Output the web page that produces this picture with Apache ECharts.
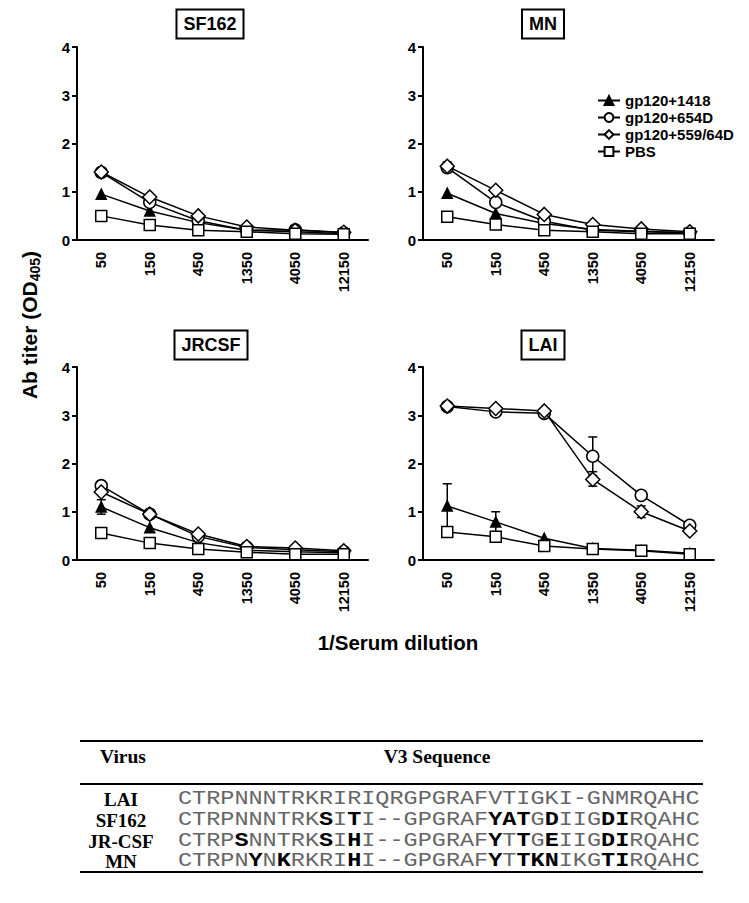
<!DOCTYPE html>
<html><head><meta charset="utf-8">
<script src="https://cdn.jsdelivr.net/npm/echarts@6/dist/echarts.min.js"></script>
<style>html,body{margin:0;padding:0;background:#fff}#c{width:749px;height:903px}</style>
</head><body><div id="c"></div>
<script>
// ---------- DATA ----------
const dilutions = ['50', '150', '450', '1350', '4050', '12150'];
const seriesNames = ['gp120+1418', 'gp120+654D', 'gp120+559/64D', 'PBS'];
const panelNames = ['SF162', 'MN', 'JRCSF', 'LAI'];
const yTicks = [0, 1, 2, 3, 4];

const sf162_1418 = [0.95, 0.60, 0.36, 0.20, 0.17, 0.13];
const sf162_654D = [1.40, 0.78, 0.40, 0.20, 0.21, 0.15];
const sf162_559 = [1.41, 0.89, 0.50, 0.27, 0.20, 0.16];
const sf162_pbs = [0.50, 0.31, 0.20, 0.17, 0.13, 0.12];

const mn_1418 = [0.97, 0.55, 0.34, 0.22, 0.18, 0.15];
const mn_654D = [1.50, 0.78, 0.39, 0.20, 0.17, 0.15];
const mn_559 = [1.53, 1.03, 0.53, 0.32, 0.23, 0.17];
const mn_pbs = [0.48, 0.32, 0.20, 0.17, 0.13, 0.13];

const jrcsf_1418 = [1.10, 0.67, 0.36, 0.20, 0.17, 0.15];
const jrcsf_654D = [1.54, 0.95, 0.49, 0.26, 0.21, 0.17];
const jrcsf_559 = [1.41, 0.95, 0.54, 0.28, 0.25, 0.19];
const jrcsf_pbs = [0.56, 0.35, 0.23, 0.16, 0.12, 0.12];

const lai_1418 = [1.12, 0.79, 0.45, 0.24, 0.20, 0.14];
const lai_654D = [3.18, 3.07, 3.04, 2.15, 1.34, 0.72];
const lai_559 = [3.19, 3.14, 3.09, 1.67, 1.00, 0.60];
const lai_pbs = [0.58, 0.48, 0.29, 0.23, 0.19, 0.12];

// error bars: [category index, low, high]
const sf162_err = [];
const mn_err = [[0, 1.40, 1.62]];
const jrcsf_err = [[0, 0.95, 1.25]];
const lai_err = [[0, 0.66, 1.58], [1, 0.58, 1.00], [3, 1.75, 2.55], [3, 1.53, 1.83], [4, 0.88, 1.12]];

const tableHeader = ['Virus', 'V3 Sequence'];
const tableViruses = ['LAI', 'SF162', 'JR-CSF', 'MN'];
// bracketed letters are printed in bold
const tableSequences = [
  'CTRPNNNTRKRIRIQRGPGRAFVTIGKI-GNMRQAHC',
  'CTRPNNNTRK[S]I[T]I--GPGRAF[YAT]G[D]IIG[DI]RQAHC',
  'CTRP[S]NNTRK[S]I[H]I--GPGRAF[Y]T[T]G[E]IIG[DI]RQAHC',
  'CTRPN[Y]N[K]RKRI[H]I--GPGRAF[Y]T[TKN]IKG[TI]RQAHC'
];

const panelData = [
  [sf162_1418, sf162_654D, sf162_559, sf162_pbs],
  [mn_1418, mn_654D, mn_559, mn_pbs],
  [jrcsf_1418, jrcsf_654D, jrcsf_559, jrcsf_pbs],
  [lai_1418, lai_654D, lai_559, lai_pbs]
];
const panelErr = [sf162_err, mn_err, jrcsf_err, lai_err];

// ---------- STYLE / LAYOUT ----------
const SANS = '"Liberation Sans", Arial, sans-serif';
const SERIF = '"Liberation Serif", "Times New Roman", serif';
const MONO = '"Liberation Mono", "Courier New", monospace';
const gridPos = [
  {left: 77, top: 47}, {left: 423, top: 47},
  {left: 77, top: 367}, {left: 423, top: 367}
];
const GW = 291, GH = 193;
const titlePos = [[210, 24], [543, 24], [211, 345], [543, 345]];
const symbolDefs = [
  {symbol: 'triangle', size: 10, fill: '#000'},
  {symbol: 'circle', size: 12, fill: '#fff'},
  {symbol: 'diamond', size: 14, fill: '#fff'},
  {symbol: 'rect', size: 11, fill: '#fff'}
];

const grids = [], xAxes = [], yAxes = [], series = [], graphics = [];
gridPos.forEach((g, i) => {
  grids.push({left: g.left, top: g.top, width: GW, height: GH});
  xAxes.push({
    type: 'category', gridIndex: i, data: dilutions, boundaryGap: true,
    axisLine: {lineStyle: {color: '#000', width: 2}},
    axisTick: {alignWithLabel: true, length: 5, lineStyle: {color: '#000', width: 2}},
    axisLabel: {rotate: 90, color: '#000', fontFamily: SANS, fontWeight: 'bold', fontSize: 14.5, margin: 12},
    splitLine: {show: false}
  });
  yAxes.push({
    type: 'value', gridIndex: i, min: yTicks[0], max: yTicks[yTicks.length - 1], interval: 1,
    axisLine: {show: true, lineStyle: {color: '#000', width: 2}},
    axisTick: {show: true, length: 5, lineStyle: {color: '#000', width: 2}},
    axisLabel: {color: '#000', fontFamily: SANS, fontWeight: 'bold', fontSize: 15, margin: 7},
    splitLine: {show: false}
  });
  series.push({
    type: 'custom', xAxisIndex: i, yAxisIndex: i, z: 1, silent: true,
    data: panelErr[i], encode: {x: 0, y: [1, 2]},
    renderItem: function (params, api) {
      const c = api.value(0), lo = api.value(1), hi = api.value(2);
      const p1 = api.coord([c, lo]), p2 = api.coord([c, hi]);
      const w = 4.5;
      const st = {stroke: '#000', lineWidth: 1.5};
      return {type: 'group', children: [
        {type: 'line', shape: {x1: p1[0], y1: p1[1], x2: p2[0], y2: p2[1]}, style: st},
        {type: 'line', shape: {x1: p1[0] - w, y1: p1[1], x2: p1[0] + w, y2: p1[1]}, style: st},
        {type: 'line', shape: {x1: p2[0] - w, y1: p2[1], x2: p2[0] + w, y2: p2[1]}, style: st}
      ]};
    }
  });
  panelData[i].forEach((vals, k) => {
    const sd = symbolDefs[k];
    series.push({
      type: 'line', name: seriesNames[k], xAxisIndex: i, yAxisIndex: i, z: 2 + k,
      data: vals, symbol: sd.symbol, symbolSize: sd.size, showAllSymbol: true,
      lineStyle: {color: '#000', width: 1.5},
      itemStyle: {color: sd.fill, borderColor: '#000', borderWidth: 1.5},
      emphasis: {disabled: true}, animation: false
    });
  });
  graphics.push({
    type: 'text', x: titlePos[i][0], y: titlePos[i][1], z: 10,
    style: {
      text: panelNames[i], align: 'center', verticalAlign: 'middle',
      fontFamily: SANS, fontWeight: 'bold', fontSize: 18, fill: '#000',
      borderColor: '#000', borderWidth: 2, padding: [5, 6, 4, 6], backgroundColor: '#fff'
    }
  });
});

// axis titles
graphics.push({
  type: 'text', x: 30, y: 325, rotation: Math.PI / 2,
  style: {
    text: '{a|Ab titer (OD}{s|405}{a|)}', align: 'center', verticalAlign: 'middle',
    rich: {
      a: {fontFamily: SANS, fontWeight: 'bold', fontSize: 21, lineHeight: 23, verticalAlign: 'top', fill: '#000'},
      s: {fontFamily: SANS, fontWeight: 'bold', fontSize: 14, lineHeight: 14, verticalAlign: 'bottom', padding: [12, 0, 0, 0], fill: '#000'}
    }
  }
});
graphics.push({
  type: 'text', x: 398, y: 642,
  style: {text: '1/Serum dilution', align: 'center', verticalAlign: 'middle',
    fontFamily: SANS, fontWeight: 'bold', fontSize: 20.5, fill: '#000'}
});

// table
const TL = 80, TR = 703;
[[741, 2], [784, 2], [872, 2]].forEach(([y, w]) => {
  graphics.push({type: 'line', shape: {x1: TL, y1: y, x2: TR, y2: y}, style: {stroke: '#000', lineWidth: w}});
});
graphics.push({type: 'text', x: 123, y: 756, style: {text: tableHeader[0], align: 'center', verticalAlign: 'middle',
  fontFamily: SERIF, fontWeight: 'bold', fontSize: 19.5, fill: '#000'}});
graphics.push({type: 'text', x: 437, y: 756, style: {text: tableHeader[1], align: 'center', verticalAlign: 'middle',
  fontFamily: SERIF, fontWeight: 'bold', fontSize: 19.5, fill: '#000'}});
const rowY = [799, 820, 841, 861];
function seqToRich(s) {
  return s.replace(/\[([^\]]+)\]/g, '}{b|$1}{n|').replace(/^/, '{n|') + '}';
}
tableViruses.forEach((v, r) => {
  graphics.push({type: 'text', x: 121, y: rowY[r], style: {text: v, align: 'center', verticalAlign: 'middle',
    fontFamily: SERIF, fontWeight: 'bold', fontSize: 19, lineHeight: 19, fill: '#000'}});
  graphics.push({type: 'text', x: 178, y: rowY[r], scaleX: 1.175, style: {
    text: seqToRich(tableSequences[r]), align: 'left', verticalAlign: 'middle',
    rich: {
      n: {fontFamily: MONO, fontSize: 20, lineHeight: 19, fill: '#666', fontWeight: 'normal'},
      b: {fontFamily: MONO, fontSize: 20, lineHeight: 19, fill: '#000', fontWeight: 'bold'}
    }
  }});
});

const chart = echarts.init(document.getElementById('c'), null, {renderer: 'svg'});
chart.setOption({
  animation: false,
  backgroundColor: '#fff',
  grid: grids, xAxis: xAxes, yAxis: yAxes, series: series,
  legend: {
    data: seriesNames, orient: 'vertical', left: 592, top: 88, selectedMode: false,
    itemWidth: 22, itemHeight: 11, itemGap: 2,
    textStyle: {fontFamily: SANS, fontWeight: 'bold', fontSize: 15, color: '#000', lineHeight: 14}
  },
  graphic: graphics
});
</script></body></html>
